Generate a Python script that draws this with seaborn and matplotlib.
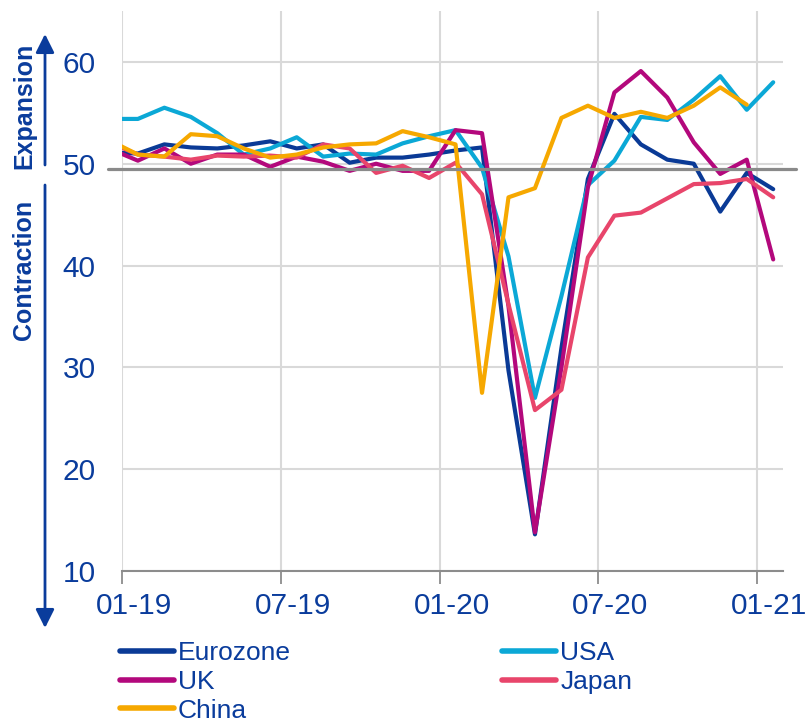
import numpy as np
import pandas as pd
import matplotlib
matplotlib.use("Agg")
import matplotlib.pyplot as plt
import seaborn as sns
from matplotlib.lines import Line2D
from matplotlib.transforms import ScaledTranslation, blended_transform_factory

# ---- data: composite PMI, Dec 2018 .. Jan 2021 ----
months = list(range(-1, 25))  # -1 = Dec 2018, 0 = Jan 2019, ..., 24 = Jan 2021
eurozone = [51.1, 51.0, 51.9, 51.6, 51.5, 51.8, 52.2, 51.5, 51.9, 50.1, 50.6, 50.6, 50.9,
            51.3, 51.6, 29.7, 13.6, 31.9, 48.5, 54.9, 51.9, 50.4, 50.0, 45.3, 49.1, 47.5]
usa = [54.4, 54.4, 55.5, 54.6, 53.0, 50.9, 51.5, 52.6, 50.7, 51.0, 50.9, 52.0, 52.7,
       53.3, 49.6, 40.9, 27.0, 37.0, 47.9, 50.3, 54.6, 54.3, 56.3, 58.6, 55.3, 58.0]
uk = [51.4, 50.3, 51.5, 50.0, 50.9, 50.9, 49.7, 50.7, 50.2, 49.3, 50.0, 49.3, 49.3,
      53.3, 53.0, 36.0, 13.8, 30.0, 47.7, 57.0, 59.1, 56.5, 52.1, 49.0, 50.4, 40.6]
japan = [52.0, 50.9, 50.7, 50.4, 50.8, 50.7, 50.8, 50.6, 51.9, 51.5, 49.1, 49.8, 48.6,
         50.1, 47.0, 36.2, 25.8, 27.8, 40.8, 44.9, 45.2, 46.6, 48.0, 48.1, 48.5, 46.7]
china = [52.2, 50.9, 50.7, 52.9, 52.7, 51.5, 50.6, 50.9, 51.6, 51.9, 52.0, 53.2, 52.6,
         51.9, 27.5, 46.7, 47.6, 54.5, 55.7, 54.5, 55.1, 54.5, 55.7, 57.5, 55.8, np.nan]

series_names = ["Eurozone", "USA", "UK", "Japan", "China"]
series_values = [eurozone, usa, uk, japan, china]
series_colors = ["#0A3A96", "#0BA8D6", "#B3087C", "#E8456B", "#F6A800"]

tick_months = [0, 6, 12, 18, 24]
tick_labels = ["01-19", "07-19", "01-20", "07-20", "01-21"]
y_ticks = [10, 20, 30, 40, 50, 60]

NAVY = "#0A3C9C"

rows = []
for name, vals in zip(series_names, series_values):
    for m, v in zip(months, vals):
        if not np.isnan(v):
            rows.append({"country": name, "x": m + 0.6, "value": v})
df = pd.DataFrame(rows)

sns.set_theme(style="white")
plt.rcParams["font.family"] = ["Liberation Sans", "DejaVu Sans"]

W, H = 812, 726
fig = plt.figure(figsize=(W / 100, H / 100), dpi=100)
ax = fig.add_axes([122 / W, 1 - 571 / H, 661 / W, 560 / H])

sns.lineplot(data=df, x="x", y="value", hue="country", hue_order=series_names,
             palette=dict(zip(series_names, series_colors)), linewidth=3,
             errorbar=None, legend=False, ax=ax)

ax.set_xlim(0, 24.97)
ax.set_ylim(10, 65)
ax.set_xticks(tick_months)
ax.set_xticklabels(tick_labels)
ax.set_yticks(y_ticks)
ax.set_xlabel("")
ax.set_ylabel("")

ax.grid(True, color="#D9D9D9", lw=1.5)
ax.set_axisbelow(True)
for s in ["left", "top", "right"]:
    ax.spines[s].set_visible(False)
ax.spines["bottom"].set_color("#8C8C8C")
ax.spines["bottom"].set_linewidth(1.5)

ax.tick_params(axis="x", direction="out", length=9, width=1.3, color="#8C8C8C",
               pad=6, labelsize=21.5, labelcolor=NAVY, bottom=True)
ax.tick_params(axis="y", length=0, pad=19, labelsize=21.5, labelcolor=NAVY)
for lab in ax.get_xticklabels():
    lab.set_transform(lab.get_transform() + ScaledTranslation(12 / 100, 0, fig.dpi_scale_trans))

# 50 threshold line (slightly wider than plot)
trans = blended_transform_factory(ax.transAxes, ax.transData)
ax.plot([-0.021, 1.02], [49.5, 49.5], transform=trans, color="#8A8A8A", lw=2.3,
        clip_on=False, zorder=4)

# Expansion / Contraction arrows and labels
ax.annotate("", xy=(45, H - 34), xytext=(45, H - 165), xycoords="figure pixels",
            textcoords="figure pixels",
            arrowprops=dict(arrowstyle="-|>", color=NAVY, lw=2, mutation_scale=28,
                            shrinkA=0, shrinkB=0))
ax.annotate("", xy=(45, H - 628), xytext=(45, H - 185), xycoords="figure pixels",
            textcoords="figure pixels",
            arrowprops=dict(arrowstyle="-|>", color=NAVY, lw=2, mutation_scale=28,
                            shrinkA=0, shrinkB=0))
fig.text(24 / W, 1 - 106 / H, "Expansion", rotation=90, ha="center", va="center",
         fontsize=18, fontweight="bold", color=NAVY)
fig.text(24 / W, 1 - 270 / H, "Contraction", rotation=90, ha="center", va="center",
         fontsize=18, fontweight="bold", color=NAVY)

# Legend (column-major: Eurozone, UK, China | USA, Japan)
cmap = dict(zip(series_names, series_colors))
leg_order = ["Eurozone", "UK", "China", "USA", "Japan"]
handles = [Line2D([], [], color=cmap[n], lw=4) for n in leg_order]
fig.legend(handles, leg_order, ncol=2, loc="upper left",
           bbox_to_anchor=(120 / W, 1 - 641 / H), frameon=False, fontsize=19,
           handlelength=2.05, handletextpad=0.15, columnspacing=8.0,
           labelspacing=0.18, borderpad=0, borderaxespad=0, labelcolor=NAVY)

fig.savefig("out.png", dpi=100)
